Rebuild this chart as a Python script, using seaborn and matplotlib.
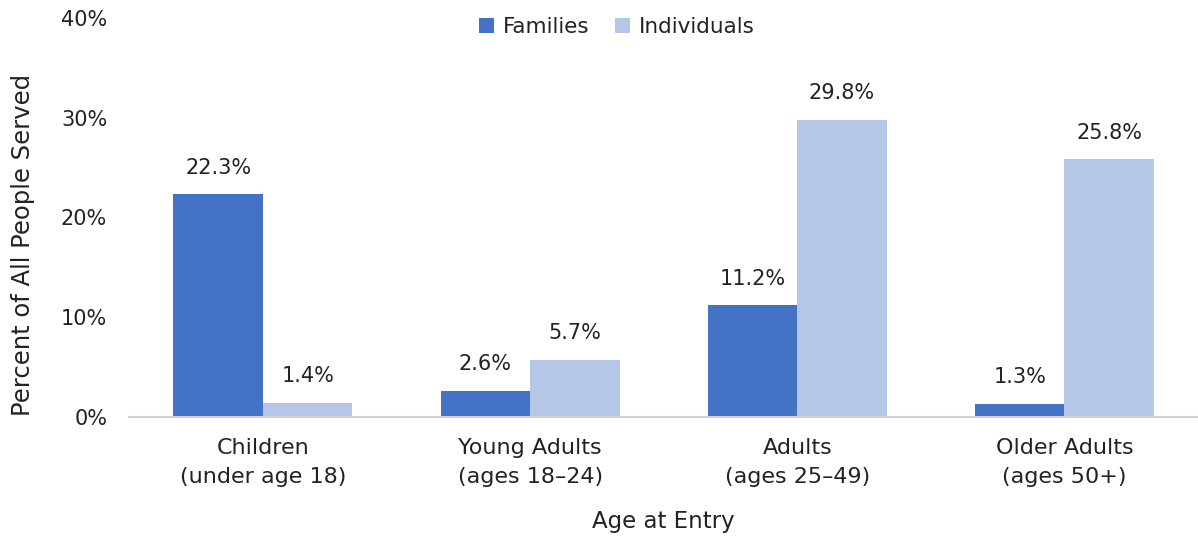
import matplotlib
matplotlib.use("Agg")
import matplotlib.pyplot as plt
import seaborn as sns
import pandas as pd
from matplotlib.ticker import FuncFormatter

categories = ["Children\n(under age 18)", "Young Adults\n(ages 18–24)",
              "Adults\n(ages 25–49)", "Older Adults\n(ages 50+)"]
families = [22.3, 2.6, 11.2, 1.3]
individuals = [1.4, 5.7, 29.8, 25.8]
series_names = ["Families", "Individuals"]
colors = ["#4472C4", "#B4C7E7"]

df = pd.DataFrame({
    "category": categories * 2,
    "value": families + individuals,
    "series": [series_names[0]] * 4 + [series_names[1]] * 4,
})

sns.set_theme(style="white")
plt.rcParams['font.family'] = ['DejaVu Sans']

fig = plt.figure(figsize=(11.98, 5.36), dpi=100)
ax = fig.add_axes([0.108, 0.222, 0.892, 0.745])

sns.barplot(data=df, x="category", y="value", hue="series", palette=colors,
            width=0.67, saturation=1, ax=ax, legend=True, linewidth=0)

for cont in ax.containers:
    ax.bar_label(cont, labels=[f"{v:.1f}%" for v in cont.datavalues],
                 padding=12, fontsize=15, color="#222222")

ax.set_ylim(0, 40)
ax.set_yticks([0, 10, 20, 30, 40])
ax.yaxis.set_major_formatter(FuncFormatter(lambda v, p: f"{v:.0f}%"))
ax.set_xlim(-0.5, 3.5)
ax.tick_params(axis="both", labelsize=15, colors="#222222", length=0)
ax.tick_params(axis="y", pad=16)
ax.tick_params(axis="x", pad=15, labelsize=16)
for lbl in ax.get_xticklabels():
    lbl.set_linespacing(1.6)
ax.set_xlabel("Age at Entry", fontsize=16.5, color="#222222", labelpad=16)
ax.set_ylabel("Percent of All People Served", fontsize=17.5, color="#222222")
ax.yaxis.set_label_coords(-0.088, 0.43)

for s in ["top", "right", "left"]:
    ax.spines[s].set_visible(False)
ax.spines["bottom"].set_color("#D0D0D0")
ax.spines["bottom"].set_linewidth(1.5)

leg = ax.legend(loc="upper center", bbox_to_anchor=(0.456, 1.05), ncol=2, frameon=False,
                fontsize=15.5, handlelength=0.7, handleheight=0.7, handletextpad=0.4,
                columnspacing=1.2)
for t in leg.get_texts():
    t.set_color("#222222")

fig.savefig("out.png", dpi=100)
